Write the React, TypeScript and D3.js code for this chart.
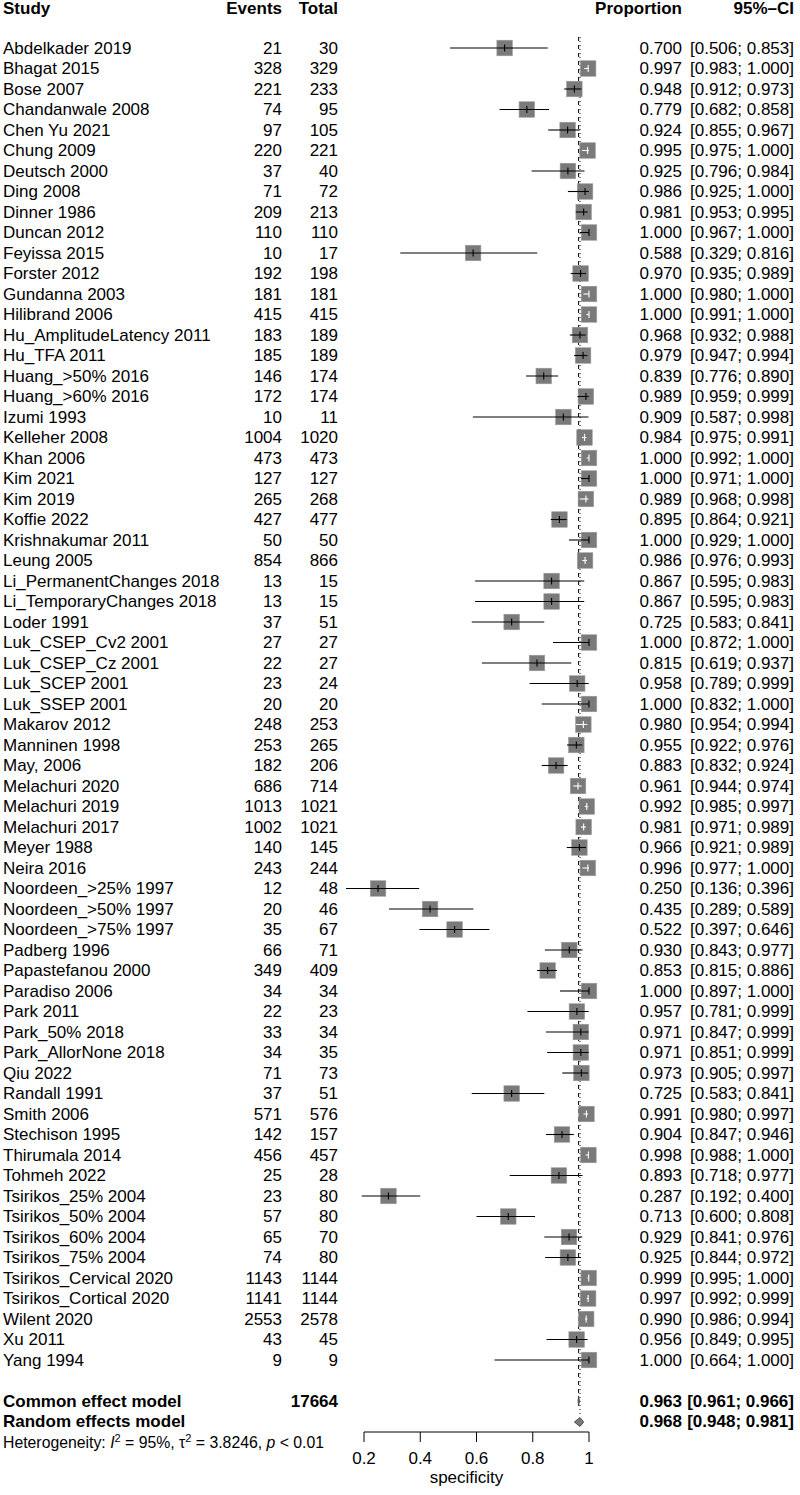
import React from "react";
import * as d3 from "d3";

const studies = ["Abdelkader 2019","Bhagat 2015","Bose 2007","Chandanwale 2008","Chen Yu 2021","Chung 2009","Deutsch 2000","Ding 2008","Dinner 1986","Duncan 2012","Feyissa 2015","Forster 2012","Gundanna 2003","Hilibrand 2006","Hu_AmplitudeLatency 2011","Hu_TFA 2011","Huang_>50% 2016","Huang_>60% 2016","Izumi 1993","Kelleher 2008","Khan 2006","Kim 2021","Kim 2019","Koffie 2022","Krishnakumar 2011","Leung 2005","Li_PermanentChanges 2018","Li_TemporaryChanges 2018","Loder 1991","Luk_CSEP_Cv2 2001","Luk_CSEP_Cz 2001","Luk_SCEP 2001","Luk_SSEP 2001","Makarov 2012","Manninen 1998","May, 2006","Melachuri 2020","Melachuri 2019","Melachuri 2017","Meyer 1988","Neira 2016","Noordeen_>25% 1997","Noordeen_>50% 1997","Noordeen_>75% 1997","Padberg 1996","Papastefanou 2000","Paradiso 2006","Park 2011","Park_50% 2018","Park_AllorNone 2018","Qiu 2022","Randall 1991","Smith 2006","Stechison 1995","Thirumala 2014","Tohmeh 2022","Tsirikos_25% 2004","Tsirikos_50% 2004","Tsirikos_60% 2004","Tsirikos_75% 2004","Tsirikos_Cervical 2020","Tsirikos_Cortical 2020","Wilent 2020","Xu 2011","Yang 1994"];
const events = [21,328,221,74,97,220,37,71,209,110,10,192,181,415,183,185,146,172,10,1004,473,127,265,427,50,854,13,13,37,27,22,23,20,248,253,182,686,1013,1002,140,243,12,20,35,66,349,34,22,33,34,71,37,571,142,456,25,23,57,65,74,1143,1141,2553,43,9];
const totals = [30,329,233,95,105,221,40,72,213,110,17,198,181,415,189,189,174,174,11,1020,473,127,268,477,50,866,15,15,51,27,27,24,20,253,265,206,714,1021,1021,145,244,48,46,67,71,409,34,23,34,35,73,51,576,157,457,28,80,80,70,80,1144,1144,2578,45,9];
const proportion = [0.700,0.997,0.948,0.779,0.924,0.995,0.925,0.986,0.981,1.000,0.588,0.970,1.000,1.000,0.968,0.979,0.839,0.989,0.909,0.984,1.000,1.000,0.989,0.895,1.000,0.986,0.867,0.867,0.725,1.000,0.815,0.958,1.000,0.980,0.955,0.883,0.961,0.992,0.981,0.966,0.996,0.250,0.435,0.522,0.930,0.853,1.000,0.957,0.971,0.971,0.973,0.725,0.991,0.904,0.998,0.893,0.287,0.713,0.929,0.925,0.999,0.997,0.990,0.956,1.000];
const ciLower = [0.506,0.983,0.912,0.682,0.855,0.975,0.796,0.925,0.953,0.967,0.329,0.935,0.980,0.991,0.932,0.947,0.776,0.959,0.587,0.975,0.992,0.971,0.968,0.864,0.929,0.976,0.595,0.595,0.583,0.872,0.619,0.789,0.832,0.954,0.922,0.832,0.944,0.985,0.971,0.921,0.977,0.136,0.289,0.397,0.843,0.815,0.897,0.781,0.847,0.851,0.905,0.583,0.980,0.847,0.988,0.718,0.192,0.600,0.841,0.844,0.995,0.992,0.986,0.849,0.664];
const ciUpper = [0.853,1.000,0.973,0.858,0.967,1.000,0.984,1.000,0.995,1.000,0.816,0.989,1.000,1.000,0.988,0.994,0.890,0.999,0.998,0.991,1.000,1.000,0.998,0.921,1.000,0.993,0.983,0.983,0.841,1.000,0.937,0.999,1.000,0.994,0.976,0.924,0.974,0.997,0.989,0.989,1.000,0.396,0.589,0.646,0.977,0.886,1.000,0.999,0.999,0.999,0.997,0.841,0.997,0.946,1.000,0.977,0.400,0.808,0.976,0.972,1.000,0.999,0.994,0.995,1.000];

const commonEffect = { est: 0.963, lo: 0.961, hi: 0.966, total: 17664 };
const randomEffect = { est: 0.968, lo: 0.948, hi: 0.981 };
const xTicks = [0.2, 0.4, 0.6, 0.8, 1];
const headers = { study: "Study", events: "Events", total: "Total", prop: "Proportion", ci: "95%\u2013CI" };

const FONT = "'Liberation Sans', Arial, Helvetica, sans-serif";
const FS = 17;

export default function App() {
  const W = 800, H = 1495;
  const x = d3.scaleLinear().domain([0.2, 1]).range([364, 589]);
  const rowY = (i: number) => 48 + i * 20.5;
  const n = studies.length;
  const yCommon = rowY(n + 1);
  const yRandom = rowY(n + 2);
  const yHet = rowY(n + 3);
  const axisY = 1432;
  const xEvents = 282, xTotal = 338, xProp = 682, xCI = 794;
  const fmt = d3.format(".3f");
  const box = 15.5;
  const grey = "#7a7a7a";
  const dy = "0.35em";

  const diamond = (lo: number, est: number, hi: number, y: number, h: number) =>
    `M${x(lo)},${y} L${x(est)},${y - h} L${x(hi)},${y} L${x(est)},${y + h} Z`;

  return (
    <svg width={W} height={H} style={{ position: "absolute", left: 0, top: 0, display: "block", background: "#fff" }} fontFamily={FONT}>
      <rect x={0} y={0} width={W} height={H} fill="#fff" />
      {/* headers */}
      <g fontWeight="bold" fontSize={FS}>
        <text x={3} y={8} dy={dy}>{headers.study}</text>
        <text x={xEvents} y={8} dy={dy} textAnchor="end">{headers.events}</text>
        <text x={xTotal} y={8} dy={dy} textAnchor="end">{headers.total}</text>
        <text x={xProp} y={8} dy={dy} textAnchor="end">{headers.prop}</text>
        <text x={xCI} y={8} dy={dy} textAnchor="end">{headers.ci}</text>
      </g>
      {/* reference lines */}
      <line x1={x(commonEffect.est)} x2={x(commonEffect.est)} y1={rowY(0) - 11} y2={yCommon - 6} stroke="#000" strokeWidth={1} strokeDasharray="4,4" />
      <line x1={x(randomEffect.est)} x2={x(randomEffect.est)} y1={rowY(0) - 11} y2={yRandom - 6} stroke="#000" strokeWidth={1} strokeDasharray="1,3" />
      {/* studies */}
      {studies.map((s, i) => {
        const y = rowY(i);
        const cx = x(proportion[i]);
        const inside = x(ciLower[i]) >= cx - box / 2 && x(ciUpper[i]) <= cx + box / 2;
        const lc = inside ? "#fff" : "#000";
        return (
          <g key={s}>
            <text x={3} y={y} dy={dy} fontSize={FS}>{s}</text>
            <text x={xEvents} y={y} dy={dy} fontSize={FS} textAnchor="end">{events[i]}</text>
            <text x={xTotal} y={y} dy={dy} fontSize={FS} textAnchor="end">{totals[i]}</text>
            <text x={xProp} y={y} dy={dy} fontSize={FS} textAnchor="end">{fmt(proportion[i])}</text>
            <text x={xCI} y={y} dy={dy} fontSize={FS} textAnchor="end">[{fmt(ciLower[i])}; {fmt(ciUpper[i])}]</text>
            <rect x={cx - box / 2} y={y - box / 2} width={box} height={box} fill={grey} stroke="#9a9a9a" strokeWidth={0.6} />
            <line x1={x(ciLower[i])} x2={x(ciUpper[i])} y1={y} y2={y} stroke={lc} strokeWidth={1.1} />
            <line x1={cx} x2={cx} y1={y - 3.5} y2={y + 3.5} stroke={lc} strokeWidth={1.1} />
          </g>
        );
      })}
      {/* summary rows */}
      <g fontWeight="bold" fontSize={FS}>
        <text x={3} y={yCommon} dy={dy}>Common effect model</text>
        <text x={xTotal} y={yCommon} dy={dy} textAnchor="end">{commonEffect.total}</text>
        <text x={xProp} y={yCommon} dy={dy} textAnchor="end">{fmt(commonEffect.est)}</text>
        <text x={xCI} y={yCommon} dy={dy} textAnchor="end">[{fmt(commonEffect.lo)}; {fmt(commonEffect.hi)}]</text>
        <text x={3} y={yRandom} dy={dy}>Random effects model</text>
        <text x={xProp} y={yRandom} dy={dy} textAnchor="end">{fmt(randomEffect.est)}</text>
        <text x={xCI} y={yRandom} dy={dy} textAnchor="end">[{fmt(randomEffect.lo)}; {fmt(randomEffect.hi)}]</text>
      </g>
      <path d={diamond(commonEffect.lo, commonEffect.est, commonEffect.hi, yCommon, 5)} fill={grey} stroke="#333" strokeWidth={0.8} />
      <path d={diamond(randomEffect.lo, randomEffect.est, randomEffect.hi, yRandom + 0.5, 4.5)} fill={grey} stroke="#333" strokeWidth={0.8} />
      <text x={3} y={yHet} dy={dy} fontSize={15.8}>
        Heterogeneity: <tspan fontStyle="italic">I</tspan><tspan dy="-6" fontSize={11}>2</tspan><tspan dy="6"> = 95%, τ</tspan><tspan dy="-6" fontSize={11}>2</tspan><tspan dy="6"> = 3.8246, </tspan><tspan fontStyle="italic">p</tspan> &lt; 0.01
      </text>
      {/* axis */}
      <line x1={x(0.2)} x2={x(1)} y1={axisY} y2={axisY} stroke="#000" strokeWidth={1} />
      {xTicks.map((t) => (
        <g key={t}>
          <line x1={x(t)} x2={x(t)} y1={axisY} y2={axisY + 10} stroke="#000" strokeWidth={1} />
          <text x={x(t)} y={1458} dy={dy} fontSize={FS} textAnchor="middle">{String(t)}</text>
        </g>
      ))}
      <text x={466.5} y={1477} dy={dy} fontSize={FS} textAnchor="middle">specificity</text>
    </svg>
  );
}
